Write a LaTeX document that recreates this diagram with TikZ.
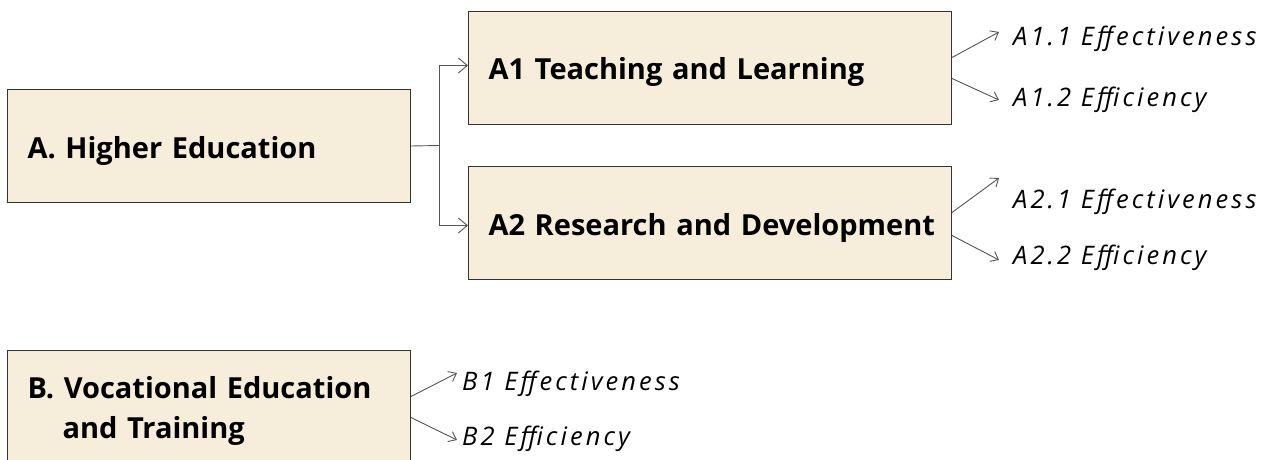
\documentclass[tikz,border=0pt]{standalone}
\usepackage{fontspec}
\IfFontExistsTF{Open Sans SemiBold}
  {\setmainfont{Open Sans}[BoldFont={Open Sans SemiBold}]}
  {\setmainfont{Open Sans}}
\newfontfamily\lblfont{Open Sans}[LetterSpace=12]
\usetikzlibrary{arrows.meta}
\definecolor{boxfill}{HTML}{F6EDDA}
\definecolor{boxline}{HTML}{333333}
\definecolor{linkgray}{HTML}{555555}
\begin{document}
\begin{tikzpicture}[x=1pt,y=-1pt,
  box/.style={draw=boxline, line width=1pt, fill=boxfill, anchor=north west,
    inner xsep=20pt, inner ysep=0pt, align=left,
    font=\bfseries\fontsize{29}{40}\selectfont},
  oneline/.style={text height=24pt, text depth=0pt},
  lbl/.style={anchor=base west, inner sep=0pt,
    font=\lblfont\itshape\fontsize{25.5}{30}\selectfont},
  link/.style={draw=linkgray, line width=0.9pt},
  bigtip/.style={-{Straight Barb[length=9pt,width=15pt]}},
  smalltip/.style={-{Straight Barb[length=7pt,width=11pt]}}]
\useasboundingbox (0,0) rectangle (1282,460);

% boxes
\node[box, oneline, text width=363pt, minimum height=113pt] (A) at (7,89) {\mbox{A. Higher Education}};
\node[box, oneline, text width=443pt, minimum height=113pt] (A1) at (468,11) {\mbox{A1 Teaching and Learning}};
\node[box, oneline, text width=443pt, minimum height=113pt] (A2) at (468,166) {\mbox{A2 Research and Development}};
\node[box, text width=363pt, minimum height=120pt] (B) at (7,350) {\mbox{B. Vocational Education}\\\hspace*{35pt}and Training};

% outcome labels
\node[lbl] (A11) at (1013,46) {A1.1 Effectiveness};
\node[lbl] (A12) at (1013,106) {A1.2 Efficiency};
\node[lbl] (A21) at (1013,208) {A2.1 Effectiveness};
\node[lbl] (A22) at (1013,264) {A2.2 Efficiency};
\node[lbl] (B1) at (462,390) {B1 Effectiveness};
\node[lbl] (B2) at (462,445) {B2 Efficiency};

% arrow ends next to the labels
\coordinate (t11) at (999,32);
\coordinate (t12) at (999,100);
\coordinate (t21) at (999,178);
\coordinate (t22) at (999,260);
\coordinate (tb1) at (457,373);
\coordinate (tb2) at (457,440);

% fork from A to A1 / A2
\coordinate (fork) at (439,145.5);
\draw[link] (A.east) -- (fork);
\draw[link, bigtip] (fork) |- ([yshift=2.5pt]A1.west);
\draw[link, bigtip] (fork) |- ([yshift=-2.5pt]A2.west);

% box to label arrows
\draw[link, smalltip] ([yshift=10.5pt]A1.east) -- (t11);
\draw[link, smalltip] ([yshift=-10.5pt]A1.east) -- (t12);
\draw[link, smalltip] ([yshift=10.5pt]A2.east) -- (t21);
\draw[link, smalltip] ([yshift=-12.5pt]A2.east) -- (t22);
\draw[link, smalltip] ([yshift=14pt]B.east) -- (tb1);
\draw[link, smalltip] ([yshift=-7pt]B.east) -- (tb2);
\end{tikzpicture}
\end{document}
